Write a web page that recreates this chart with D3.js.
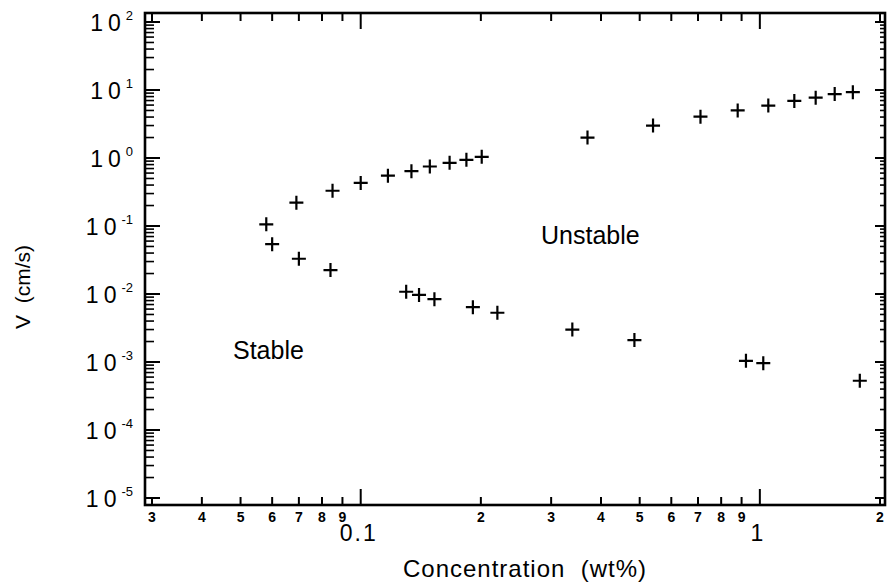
<!DOCTYPE html>
<html>
<head>
<meta charset="utf-8">
<script src="https://cdn.jsdelivr.net/npm/d3@7"></script>
<style>
  html, body { margin: 0; padding: 0; background: #fff; }
  svg { display: block; }
  text { font-family: "Liberation Sans", Arial, Helvetica, sans-serif; fill: #000; }
</style>
</head>
<body>
<svg id="chart" width="887" height="583"></svg>
<script>
// Upper branch: onset of instability
const unstableConc = [0.058, 0.069, 0.085, 0.100, 0.117, 0.134, 0.149, 0.167, 0.184, 0.201,
                      0.37, 0.54, 0.71, 0.88, 1.05, 1.22, 1.38, 1.54, 1.71];
const unstableVel  = [0.106, 0.22, 0.33, 0.43, 0.55, 0.64, 0.75, 0.85, 0.94, 1.04,
                      2.0, 3.0, 4.05, 5.0, 5.9, 6.9, 7.7, 8.7, 9.3];
// Lower branch: limit of stable growth
const stableConc = [0.060, 0.070, 0.084, 0.130, 0.140, 0.153, 0.191, 0.220, 0.339, 0.485, 0.923, 1.02, 1.78];
const stableVel  = [0.054, 0.033, 0.0225, 0.0108, 0.0097, 0.0084, 0.0064, 0.0053, 0.0030, 0.0021, 0.00104, 0.00096, 0.00053];

// Axis ticks
const xMinorTicks  = [0.03, 0.04, 0.05, 0.06, 0.07, 0.08, 0.09, 0.2, 0.3, 0.4, 0.5, 0.6, 0.7, 0.8, 0.9, 2];
const xMinorLabels = ["3", "4", "5", "6", "7", "8", "9", "2", "3", "4", "5", "6", "7", "8", "9", "2"];
const xMajorTicks  = [0.1, 1];
const xMajorLabels = ["0.1", "1"];
const yExponents   = [-5, -4, -3, -2, -1, 0, 1, 2];

const svg = d3.select("#chart");

const x = d3.scaleLog().domain([0.03, 2]).range([152, 880]);
const y = d3.scaleLog().domain([1e-5, 1e2]).range([498, 22]);

const frame = { left: 145, right: 885, top: 13, bottom: 505 };

// Minor y ticks: 2..9 within each decade
const yMinor = [];
for (let e = -5; e < 2; e++) for (let k = 2; k <= 9; k++) yMinor.push(k * Math.pow(10, e));

const g = svg.append("g");

// Frame
g.append("rect")
  .attr("x", frame.left).attr("y", frame.top)
  .attr("width", frame.right - frame.left).attr("height", frame.bottom - frame.top)
  .attr("fill", "none").attr("stroke", "#000").attr("stroke-width", 2.6);

const tickStroke = 2;

// Left axis ticks (inward)
g.selectAll(".ly-maj").data(yExponents).join("line")
  .attr("x1", frame.left).attr("x2", frame.left + 15)
  .attr("y1", d => y(Math.pow(10, d))).attr("y2", d => y(Math.pow(10, d)))
  .attr("stroke", "#000").attr("stroke-width", tickStroke);
g.selectAll(".ly-min").data(yMinor).join("line")
  .attr("x1", frame.left).attr("x2", frame.left + 9)
  .attr("y1", d => y(d)).attr("y2", d => y(d))
  .attr("stroke", "#000").attr("stroke-width", 1.6);

// Right axis ticks (inward)
g.selectAll(".ry-maj").data(yExponents).join("line")
  .attr("x1", frame.right).attr("x2", frame.right - 10)
  .attr("y1", d => y(Math.pow(10, d))).attr("y2", d => y(Math.pow(10, d)))
  .attr("stroke", "#000").attr("stroke-width", tickStroke);
g.selectAll(".ry-min").data(yMinor).join("line")
  .attr("x1", frame.right).attr("x2", frame.right - 5)
  .attr("y1", d => y(d)).attr("y2", d => y(d))
  .attr("stroke", "#000").attr("stroke-width", 1.6);

// Bottom and top ticks (inward)
g.selectAll(".bx-min").data(xMinorTicks).join("line")
  .attr("x1", d => x(d)).attr("x2", d => x(d))
  .attr("y1", frame.bottom).attr("y2", frame.bottom - 8)
  .attr("stroke", "#000").attr("stroke-width", tickStroke);
g.selectAll(".bx-maj").data(xMajorTicks).join("line")
  .attr("x1", d => x(d)).attr("x2", d => x(d))
  .attr("y1", frame.bottom).attr("y2", frame.bottom - 16)
  .attr("stroke", "#000").attr("stroke-width", tickStroke);
g.selectAll(".tx-min").data(xMinorTicks).join("line")
  .attr("x1", d => x(d)).attr("x2", d => x(d))
  .attr("y1", frame.top).attr("y2", frame.top + 8)
  .attr("stroke", "#000").attr("stroke-width", tickStroke);
g.selectAll(".tx-maj").data(xMajorTicks).join("line")
  .attr("x1", d => x(d)).attr("x2", d => x(d))
  .attr("y1", frame.top).attr("y2", frame.top + 16)
  .attr("stroke", "#000").attr("stroke-width", tickStroke);

// X tick labels
g.selectAll(".xl-min").data(xMinorTicks).join("text")
  .attr("x", d => x(d)).attr("y", 522)
  .attr("text-anchor", "middle")
  .attr("font-size", 14).attr("font-weight", "bold")
  .text((d, i) => xMinorLabels[i]);
g.selectAll(".xl-maj").data(xMajorTicks).join("text")
  .attr("x", d => x(d) - 2).attr("y", 541)
  .attr("text-anchor", "middle")
  .attr("font-size", 23).attr("letter-spacing", 2)
  .text((d, i) => xMajorLabels[i]);

// Y tick labels: 10 with superscript exponent, right-aligned
const yl = g.selectAll(".yl").data(yExponents).join("text")
  .attr("x", 133).attr("y", d => y(Math.pow(10, d)) + 9)
  .attr("text-anchor", "end")
  .attr("font-size", 23);
yl.append("tspan").attr("letter-spacing", 5).text("10");
yl.append("tspan")
  .attr("dy", -11).attr("font-size", 13)
  .text(d => d < 0 ? "-" + Math.abs(d) : String(d));

// Axis titles
svg.append("text")
  .attr("x", 525).attr("y", 577)
  .attr("text-anchor", "middle").attr("font-size", 24).attr("letter-spacing", 1)
  .attr("xml:space", "preserve")
  .text("Concentration  (wt%)");
svg.append("text")
  .attr("transform", "translate(30,287) rotate(-90)")
  .attr("text-anchor", "middle").attr("font-size", 21)
  .attr("xml:space", "preserve")
  .text("V  (cm/s)");

// Region labels
svg.append("text").attr("x", 541).attr("y", 244).attr("font-size", 25).text("Unstable");
svg.append("text").attr("x", 233).attr("y", 359).attr("font-size", 25).text("Stable");

// Plus markers
function drawPlus(cls, cs, vs) {
  const pts = cs.map((c, i) => ({ c, v: vs[i] }));
  g.selectAll("." + cls).data(pts).join("path")
    .attr("class", cls)
    .attr("transform", d => `translate(${x(d.c)},${y(d.v)})`)
    .attr("d", "M-7,0H7M0,-7V7")
    .attr("stroke", "#000").attr("stroke-width", 2.2).attr("fill", "none");
}
drawPlus("up", unstableConc, unstableVel);
drawPlus("lo", stableConc, stableVel);
</script>
</body>
</html>
